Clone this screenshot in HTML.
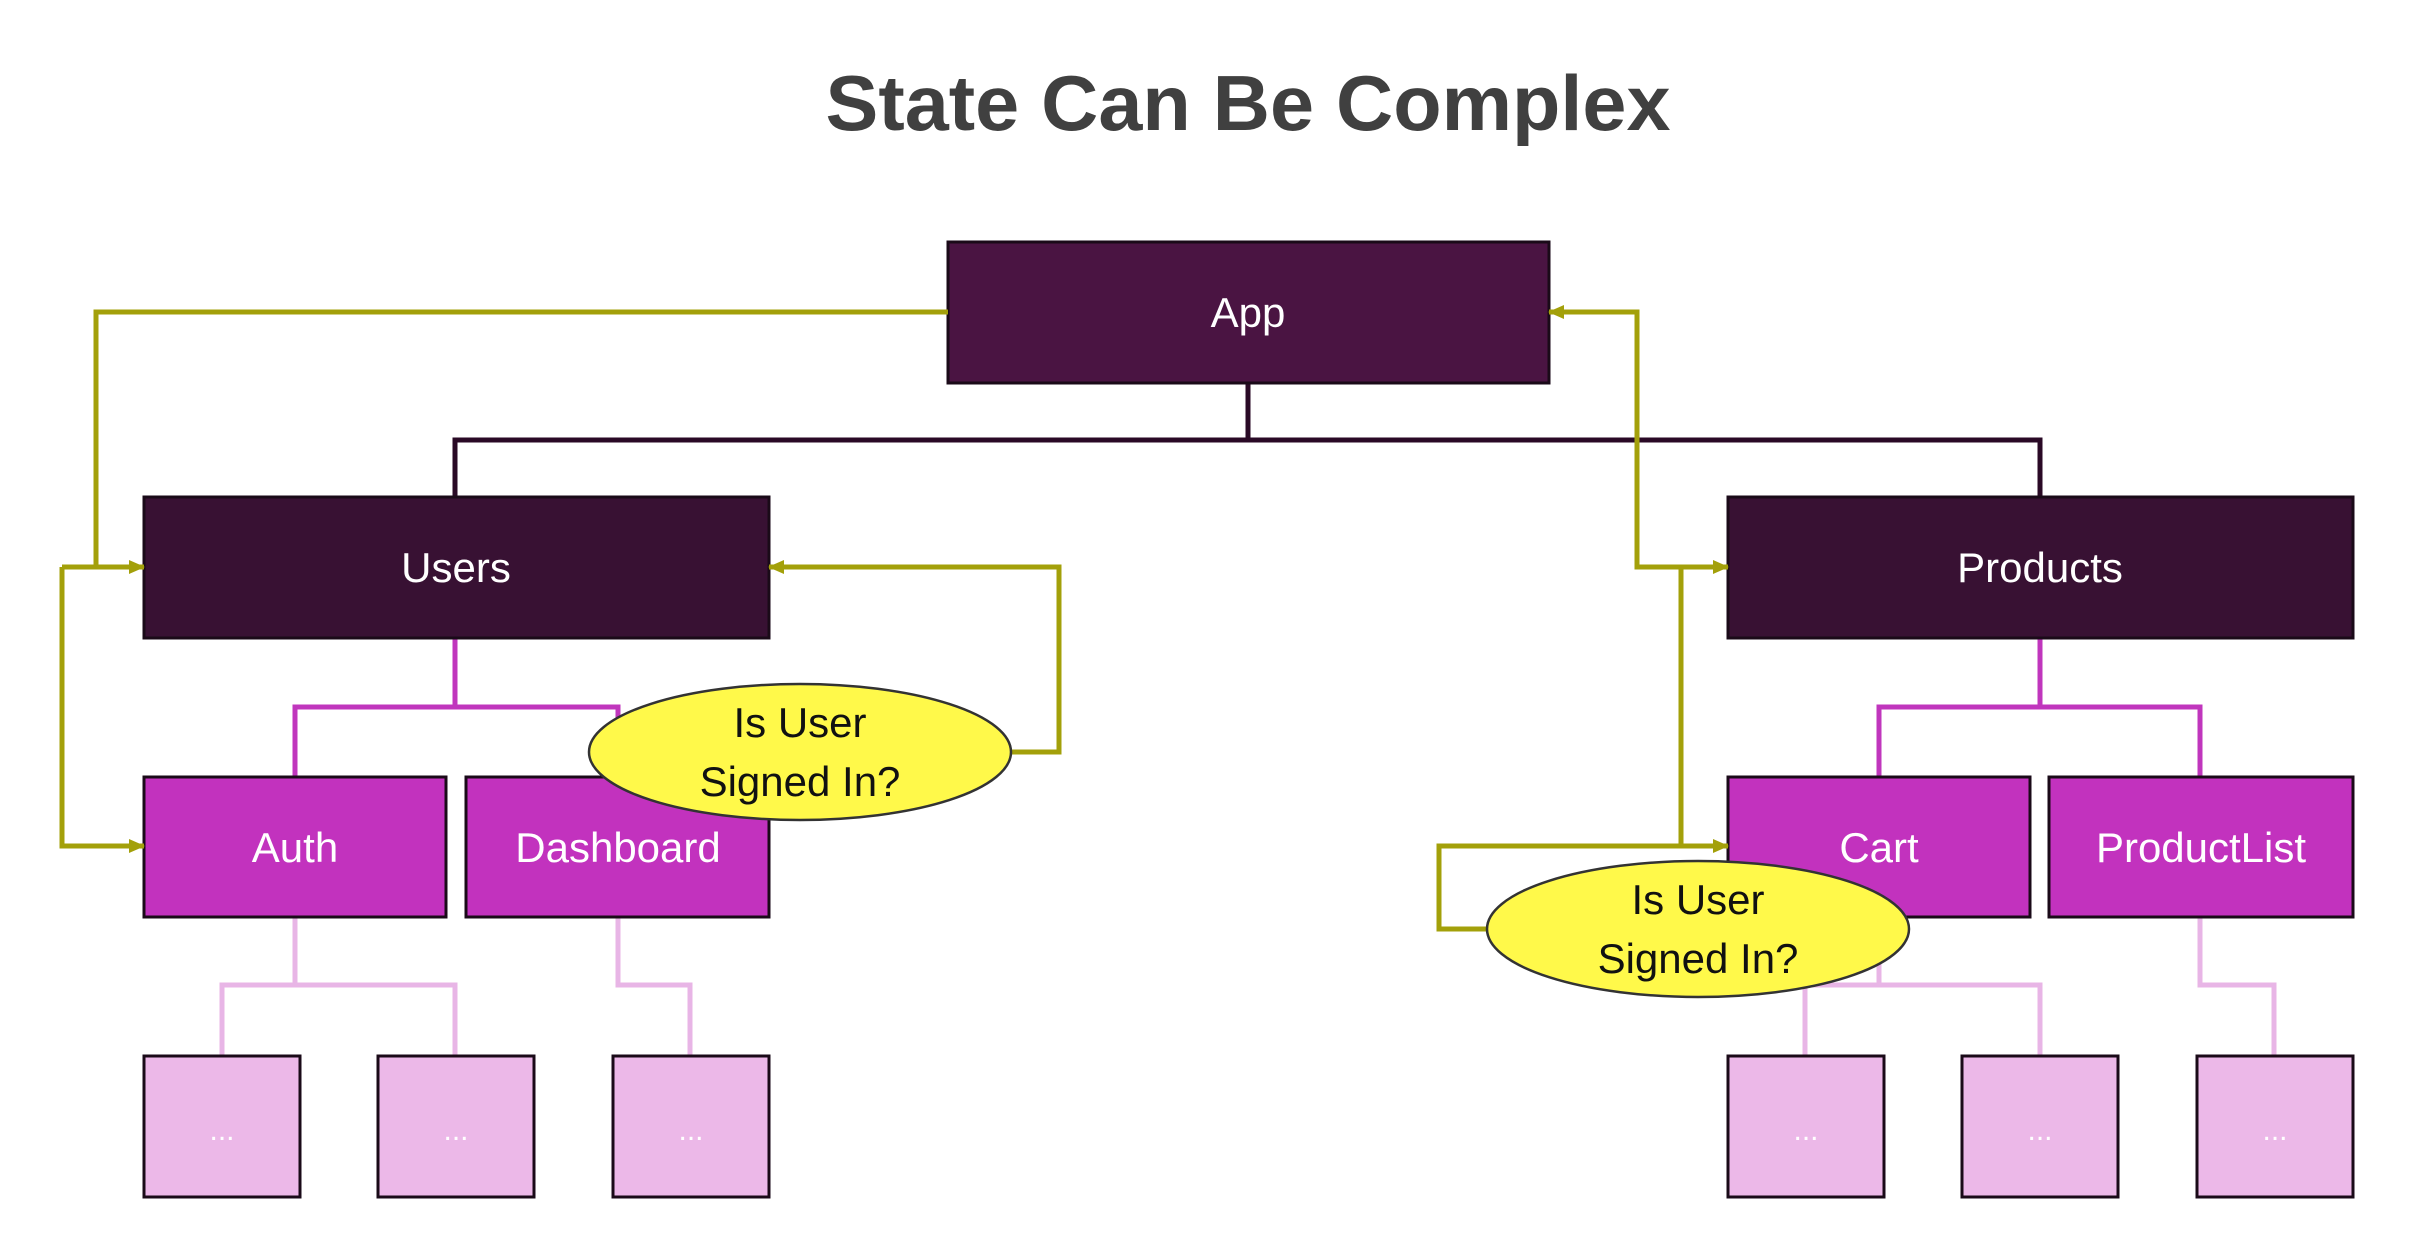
<!DOCTYPE html>
<html><head><meta charset="utf-8"><style>html,body{margin:0;padding:0;background:#fff}svg{display:block}</style></head>
<body>
<svg width="2421" height="1245" viewBox="0 0 2421 1245" xmlns="http://www.w3.org/2000/svg" font-family="Liberation Sans, sans-serif">
<defs>
<marker id="a" markerWidth="16" markerHeight="14" refX="15" refY="7" orient="auto" markerUnits="userSpaceOnUse"><path d="M0,0 L16,7 L0,14 z" fill="#a3a00a"/></marker>
</defs>
<text x="1248" y="130" text-anchor="middle" font-size="78" font-weight="bold" fill="#404040" textLength="845" lengthAdjust="spacingAndGlyphs">State Can Be Complex</text>
<g stroke="#2a0a26" stroke-width="5" fill="none">
<path d="M1248 383 V440 M455 497 V440 H2040 V497"/>
</g>
<g stroke="#c036bd" stroke-width="5" fill="none">
<path d="M455 638 V707 M295 777 V707 H618 V777 M2040 638 V707 M1879 777 V707 H2200 V777"/>
</g>
<g stroke="#e8b5e6" stroke-width="5" fill="none">
<path d="M295 917 V985 M222 1056 V985 H455 V1056 M618 917 V985 H690 V1056 M1879 917 V985 M1805 1056 V985 H2040 V1056 M2200 917 V985 H2274 V1056"/>
</g>
<g stroke="#1a0a18" stroke-width="3">
<rect x="948" y="242" width="601" height="141" fill="#4a1442"/>
<rect x="144" y="497" width="625" height="141" fill="#381133"/>
<rect x="1728" y="497" width="625" height="141" fill="#381133"/>
<rect x="144" y="777" width="302" height="140" fill="#c232be"/>
<rect x="466" y="777" width="303" height="140" fill="#c232be"/>
<rect x="1728" y="777" width="302" height="140" fill="#c232be"/>
<rect x="2049" y="777" width="304" height="140" fill="#c232be"/>
<rect x="144" y="1056" width="156" height="141" fill="#ecb8e8"/>
<rect x="378" y="1056" width="156" height="141" fill="#ecb8e8"/>
<rect x="613" y="1056" width="156" height="141" fill="#ecb8e8"/>
<rect x="1728" y="1056" width="156" height="141" fill="#ecb8e8"/>
<rect x="1962" y="1056" width="156" height="141" fill="#ecb8e8"/>
<rect x="2197" y="1056" width="156" height="141" fill="#ecb8e8"/>
</g>
<g fill="#fff" font-size="42" text-anchor="middle">
<text x="1248" y="327">App</text>
<text x="456" y="582">Users</text>
<text x="2040" y="582">Products</text>
<text x="295" y="862">Auth</text>
<text x="618" y="862">Dashboard</text>
<text x="1879" y="862">Cart</text>
<text x="2201" y="862">ProductList</text>
<g font-size="30"><text x="222" y="1140">...</text><text x="456" y="1140">...</text><text x="691" y="1140">...</text><text x="1806" y="1140">...</text><text x="2040" y="1140">...</text><text x="2275" y="1140">...</text></g>
</g>
<g stroke="#a3a00a" stroke-width="5" fill="none">
<path d="M948 312 H96 V567"/>
<path d="M62 567 H144" marker-end="url(#a)"/>
<path d="M62 567 V846 H144" marker-end="url(#a)"/>
<path d="M1011 752 H1059 V567 H769" marker-end="url(#a)"/>
<path d="M1681 567 H1637 V312 H1549" marker-end="url(#a)"/>
<path d="M1637 567 H1728" marker-end="url(#a)"/>
<path d="M1681 567 V846"/>
<path d="M1487 929 H1439 V846 H1728" marker-end="url(#a)"/>
</g>
<g stroke="#333" stroke-width="2.5" fill="#fff94a">
<ellipse cx="800" cy="752" rx="211" ry="68"/>
<ellipse cx="1698" cy="929" rx="211" ry="68"/>
</g>
<g font-size="42" text-anchor="middle" fill="#111">
<text x="800" y="737">Is User</text><text x="800" y="796">Signed In?</text>
<text x="1698" y="914">Is User</text><text x="1698" y="973">Signed In?</text>
</g>
</svg>
</body></html>
